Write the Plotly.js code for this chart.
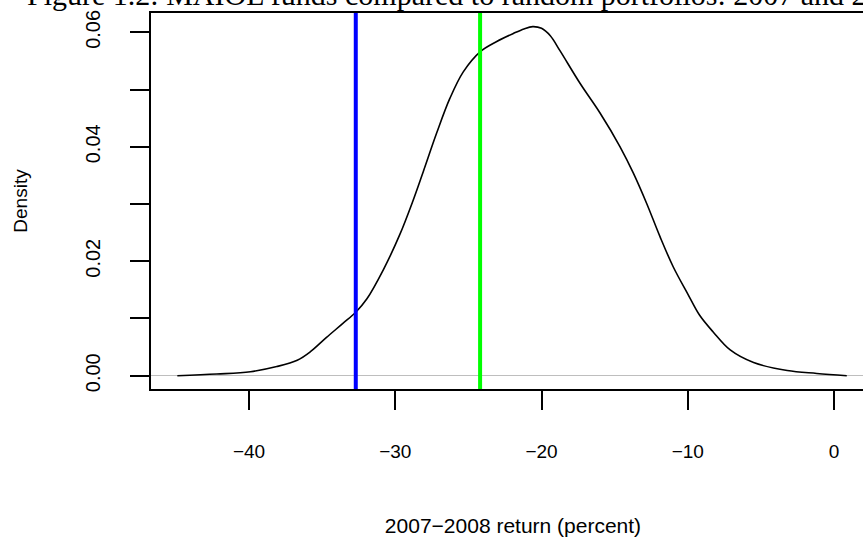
<!DOCTYPE html>
<html>
<head>
<meta charset="utf-8">
<script src="https://cdn.plot.ly/plotly-3.0.1.min.js"></script>
<style>
  html, body { margin: 0; padding: 0; overflow: hidden; background: #ffffff; }
  #chart { width: 880px; height: 539px; }
</style>
</head>
<body>
<div id="chart"></div>
<script>
// Density of random-portfolio returns, 2007-2008 (percent)
const densityX = [-44.9, -42.2, -39.9, -38.1, -36.7, -35.8, -34.7, -33.6, -32.7, -31.95, -30.8, -29.7, -28.8, -28.08, -27.17, -26.26, -25.35, -24.2, -23.06, -21.93, -21.2, -20.6, -20.0, -19.4, -18.74, -17.37, -16.0, -14.63, -13.72, -12.81, -11.9, -10.99, -9.96, -9.2, -8.25, -7.1, -5.5, -3.2, -1.18, 0.87];
const densityY = [0, 0.0003, 0.0007, 0.0016, 0.0027, 0.0042, 0.0067, 0.0091, 0.0111, 0.0134, 0.0186, 0.0246, 0.0305, 0.0357, 0.0424, 0.0485, 0.0531, 0.0566, 0.0584, 0.0598, 0.0606, 0.0610, 0.0607, 0.0594, 0.0568, 0.0511, 0.0459, 0.0400, 0.0354, 0.0301, 0.0243, 0.0190, 0.0141, 0.0106, 0.0076, 0.0045, 0.0023, 0.0009, 0.0004, 0];

// Fund returns (vertical lines)
const fundReturns = [-32.7, -24.2];
const fundColors = ["#0000ff", "#00ff00"];

// Tick labels
const xTickVals = [-40, -30, -20, -10, 0];
const xTickText = ["\u221240", "\u221230", "\u221220", "\u221210", "0"];
const yTickVals = [0, 0.01, 0.02, 0.03, 0.04, 0.05, 0.06];
const yTickText = ["0.00", "", "0.02", "", "0.04", "", "0.06"];

const titleText = "Figure 1.2: MAIOL funds compared to random portfolios: 2007 and 2008";
const xTitle = "2007\u22122008 return (percent)";
const yTitle = "Density";

const sans = "Liberation Sans, Arial, Helvetica, sans-serif";

const traces = [{
  type: "scatter",
  mode: "lines",
  x: densityX,
  y: densityY,
  line: { color: "#000000", width: 1.6, shape: "spline", smoothing: 1.0 },
  hoverinfo: "x+y",
  showlegend: false
}];

const shapes = fundReturns.map((v, i) => ({
  type: "line",
  xref: "x",
  yref: "paper",
  x0: v, x1: v,
  y0: 0, y1: 1,
  line: { color: fundColors[i], width: 4 },
  layer: "above"
}));

const layout = {
  width: 880,
  height: 539,
  margin: { l: 151, r: 5, t: 13, b: 150 },
  paper_bgcolor: "#ffffff",
  plot_bgcolor: "#ffffff",
  showlegend: false,
  font: { family: sans, color: "#000000", size: 19 },
  xaxis: {
    range: [-46.70, 2.80],
    tickvals: xTickVals,
    ticktext: xTickText,
    ticks: "outside",
    ticklen: 19,
    tickwidth: 1.5,
    tickcolor: "#000000",
    ticklabelstandoff: 25,
    showline: true,
    mirror: true,
    linecolor: "#000000",
    linewidth: 1.5,
    showgrid: false,
    zeroline: false,
    tickfont: { family: sans, size: 19 },
    title: { text: xTitle, font: { family: sans, size: 21 }, standoff: 58 }
  },
  yaxis: {
    range: [-0.00232, 0.06338],
    tickvals: yTickVals,
    ticktext: yTickText,
    ticks: "outside",
    ticklen: 19,
    tickwidth: 1.5,
    tickcolor: "#000000",
    tickangle: -90,
    ticklabelstandoff: 22,
    showline: true,
    mirror: true,
    linecolor: "#000000",
    linewidth: 1.5,
    showgrid: false,
    zeroline: true,
    zerolinecolor: "#bebebe",
    zerolinewidth: 1,
    tickfont: { family: sans, size: 20 },
    title: { text: yTitle, font: { family: sans, size: 19 }, standoff: 50 }
  },
  shapes: shapes,
  annotations: [{
    text: titleText,
    xref: "paper",
    yref: "paper",
    x: 0.44,
    y: 1,
    xanchor: "center",
    yanchor: "bottom",
    yshift: 0,
    showarrow: false,
    font: { family: "Liberation Serif, Times New Roman, serif", size: 30, color: "#000000" }
  }]
};

Plotly.newPlot("chart", traces, layout, { displayModeBar: false, staticPlot: false });
</script>
</body>
</html>
